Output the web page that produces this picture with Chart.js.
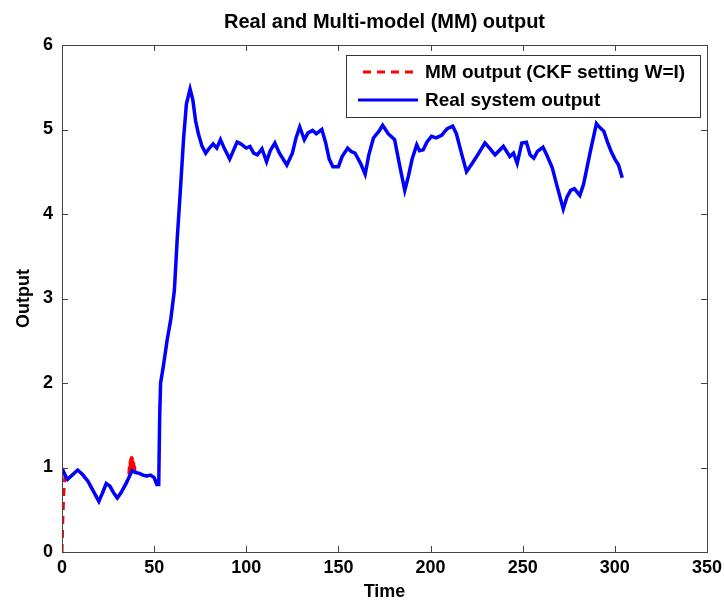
<!doctype html>
<html lang="en">
<head>
<meta charset="utf-8">
<title>Real and Multi-model (MM) output</title>
<script src="https://cdn.jsdelivr.net/npm/chart.js"></script>
<style>
  body { margin: 0; background: #fff; }
</style>
</head>
<body>
<canvas id="outputChart" width="724" height="603"></canvas>
<script>
// ---- data ----
const realTime = [0, 1.5, 3, 5, 8.5, 11, 14, 17, 20, 22, 24, 26, 28, 30, 32, 35, 38, 40, 42, 44, 46, 48, 50, 51.5, 52.5,
  53, 53.5, 55, 57, 59, 61, 62.5, 64, 66, 67.5, 69.5, 71, 72.5, 74, 76, 78, 80, 82, 84, 86, 88, 91, 93, 95, 97,
  100, 102, 104, 106, 108.5, 111, 113, 115.5, 118, 122, 125, 127, 129, 131.5, 133.5, 136, 138, 141, 143, 145, 147,
  150, 152, 155, 157, 159, 162, 164.5, 166.5, 169, 172, 174, 177, 180.5, 183, 186, 188, 190, 192.5, 194, 196, 198,
  200.5, 203, 206, 209, 212, 214, 217, 219.5, 222, 225, 229.5, 232, 235, 239.5, 243, 245, 247, 249.5, 252, 254,
  256, 258, 261, 263, 266, 269, 272, 274, 276, 278, 281, 283, 286.5, 290, 292, 294, 296, 298, 300, 302, 304];
const realOutput = [0.99, 0.92, 0.86, 0.9, 0.97, 0.92, 0.84, 0.72, 0.6, 0.7, 0.81, 0.78, 0.7, 0.64, 0.7, 0.82, 0.96, 0.94, 0.93, 0.91, 0.9, 0.91, 0.88, 0.8, 0.8,
  1.6, 2.0, 2.2, 2.5, 2.75, 3.1, 3.7, 4.2, 4.9, 5.3, 5.48, 5.35, 5.1, 4.95, 4.8, 4.72, 4.78, 4.83, 4.78, 4.88, 4.78, 4.65, 4.75, 4.85, 4.83,
  4.78, 4.8, 4.72, 4.7, 4.77, 4.62, 4.75, 4.84, 4.72, 4.58, 4.72, 4.9, 5.03, 4.88, 4.96, 4.99, 4.95, 5.0, 4.85, 4.65, 4.56,
  4.56, 4.68, 4.78, 4.74, 4.72, 4.6, 4.47, 4.7, 4.9, 4.98, 5.05, 4.95, 4.88, 4.6, 4.28, 4.45, 4.65, 4.82, 4.75, 4.76, 4.85,
  4.92, 4.9, 4.93, 5.01, 5.04, 4.95, 4.7, 4.5, 4.58, 4.68, 4.84, 4.78, 4.7, 4.8, 4.68, 4.72, 4.6, 4.84, 4.85, 4.7,
  4.66, 4.74, 4.79, 4.7, 4.55, 4.3, 4.06, 4.2, 4.28, 4.3, 4.22, 4.35, 4.72, 5.07, 5.02, 4.98, 4.85, 4.74, 4.65, 4.58, 4.43];

// MM output: only visible at the start transient and the spike near t=38, elsewhere under the real output
const mmTime = [0, 0.4, 0.8, 1.2, 1.6, 2.5, 3, 5, 8.5, 11, 14, 17, 20, 22, 24, 26, 28, 30, 32, 35,
  36.3, 36.5, 36.7, 36.9, 37.1, 37.3, 37.5, 37.7, 37.9, 38.1, 38.3, 38.5, 38.7, 38.9, 39.1, 39.3, 39.6, 40, 42, 44, 46, 48, 50, 51.5, 52.5];
const mmOutput = [0, 0.35, 0.6, 0.8, 0.9, 0.87, 0.86, 0.9, 0.97, 0.92, 0.84, 0.72, 0.6, 0.7, 0.81, 0.78, 0.7, 0.64, 0.7, 0.82,
  0.92, 1.02, 0.94, 1.08, 0.96, 1.13, 0.97, 1.16, 0.98, 1.14, 0.97, 1.1, 0.97, 1.06, 0.96, 1.02, 0.95, 0.94, 0.93, 0.91, 0.9, 0.91, 0.88, 0.8, 0.8];

const xTicks = [0, 50, 100, 150, 200, 250, 300, 350];
const yTicks = [0, 1, 2, 3, 4, 5, 6];

const fontFam = '"Liberation Sans", Arial, sans-serif';
const toPoints = (xs, ys) => xs.map((x, i) => ({x: x, y: ys[i]}));

// frame, inward ticks, title and the in-plot legend
const framePlugin = {
  id: 'frame',
  afterDraw(chart) {
    const ctx = chart.ctx;
    const a = chart.chartArea;
    const xs = chart.scales.x, ys = chart.scales.y;
    ctx.save();
    ctx.strokeStyle = '#444';
    ctx.lineWidth = 1;
    ctx.strokeRect(a.left + 0.5, a.top + 0.5, a.right - a.left, a.bottom - a.top);
    ctx.beginPath();
    xTicks.forEach(v => {
      const px = Math.round(xs.getPixelForValue(v)) + 0.5;
      ctx.moveTo(px, a.bottom); ctx.lineTo(px, a.bottom - 6);
      ctx.moveTo(px, a.top); ctx.lineTo(px, a.top + 6);
    });
    yTicks.forEach(v => {
      const py = Math.round(ys.getPixelForValue(v)) + 0.5;
      ctx.moveTo(a.left, py); ctx.lineTo(a.left + 6, py);
      ctx.moveTo(a.right, py); ctx.lineTo(a.right - 6, py);
    });
    ctx.stroke();

    // title
    ctx.fillStyle = '#000';
    ctx.font = 'bold 20px ' + fontFam;
    ctx.textAlign = 'center';
    ctx.textBaseline = 'middle';
    ctx.fillText('Real and Multi-model (MM) output', (a.left + a.right) / 2, 22);

    // legend box
    const sets = chart.data.datasets;
    const order = [1, 0];
    ctx.fillStyle = '#fff';
    ctx.fillRect(346, 55, 354, 62);
    ctx.strokeStyle = '#333';
    ctx.strokeRect(346.5, 55.5, 354, 62);
    ctx.font = 'bold 19px ' + fontFam;
    ctx.textAlign = 'left';
    order.forEach((di, row) => {
      const ds = sets[di];
      const y = 72 + row * 28;
      ctx.beginPath();
      ctx.strokeStyle = ds.borderColor;
      ctx.lineWidth = 3;
      ctx.setLineDash(ds.borderDash || []);
      ctx.moveTo(di === 1 ? 363 : 358, y);
      ctx.lineTo(418, y);
      ctx.stroke();
      ctx.setLineDash([]);
      ctx.fillStyle = '#000';
      ctx.fillText(ds.label, 425, y + 1);
    });
    ctx.restore();
  }
};

const ctx = document.getElementById('outputChart').getContext('2d');
const outputChart = new Chart(ctx, {
  type: 'line',
  data: {
    datasets: [
      { // drawn last -> on top
        label: 'Real system output',
        data: toPoints(realTime, realOutput),
        borderColor: '#0000ff',
        borderWidth: 3.5,
        pointRadius: 0,
        tension: 0
      },
      {
        label: 'MM output (CKF setting W=I)',
        data: toPoints(mmTime, mmOutput),
        borderColor: '#ff0000',
        borderWidth: 3,
        borderDash: [8, 6],
        pointRadius: 0,
        tension: 0
      }
    ]
  },
  options: {
    responsive: false,
    animation: false,
    layout: { padding: { top: 45, right: 17, bottom: 0, left: 0 } },
    plugins: {
      legend: { display: false },
      title: { display: false },
      tooltip: { enabled: false }
    },
    scales: {
      x: {
        type: 'linear',
        min: 0, max: 350,
        afterFit: s => { s.height = 51; s.paddingLeft = 0; s.paddingRight = 0; },
        afterBuildTicks: s => { s.ticks = xTicks.map(v => ({value: v})); },
        grid: { display: false, drawTicks: false },
        border: { display: false },
        ticks: { color: '#000', padding: 5, font: { family: fontFam, size: 18, weight: 'bold' } },
        title: { display: true, text: 'Time', color: '#000', padding: { top: 0, bottom: 0 },
                 font: { family: fontFam, size: 18, weight: 'bold' } }
      },
      y: {
        min: 0, max: 6,
        afterFit: s => { s.width = 62; s.paddingTop = 0; s.paddingBottom = 0; },
        afterBuildTicks: s => { s.ticks = yTicks.map(v => ({value: v})); },
        grid: { display: false, drawTicks: false },
        border: { display: false },
        ticks: { color: '#000', padding: 9, font: { family: fontFam, size: 18, weight: 'bold' } },
        title: { display: true, text: 'Output', color: '#000', padding: { top: 13, bottom: 0 },
                 font: { family: fontFam, size: 18, weight: 'bold' } }
      }
    }
  },
  plugins: [framePlugin]
});
</script>
</body>
</html>
